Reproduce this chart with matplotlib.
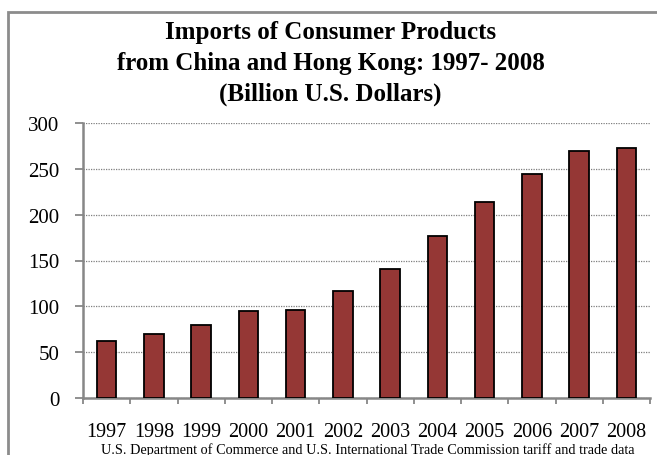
import numpy as np
import matplotlib
matplotlib.use("Agg")
import matplotlib.pyplot as plt
from matplotlib.patches import Rectangle

years = ["1997", "1998", "1999", "2000", "2001", "2002",
         "2003", "2004", "2005", "2006", "2007", "2008"]
imports = [62.5, 69.5, 80, 95, 96.5, 117, 141, 177, 214, 244, 269, 273]
yticks = [0, 50, 100, 150, 200, 250, 300]

title = ("Imports of Consumer Products\n"
         "from China and Hong Kong: 1997- 2008\n"
         "(Billion U.S. Dollars)")
source = ("U.S. Department of Commerce and U.S. International Trade "
          "Commission tariff and trade data")

plt.rcParams["font.family"] = ["Liberation Serif", "DejaVu Serif"]

fig = plt.figure(figsize=(6.57, 4.56), dpi=100)
W, H = 657, 456

# outer chart frame (only top/left visible in the original)
fig.patches.append(Rectangle((8 / W, -0.1), 1.2, 1 - 13 / H + 0.1,
                             transform=fig.transFigure, fill=False,
                             edgecolor="#8c8c8c", linewidth=2))

ax = fig.add_axes([83 / W, 1 - 399 / H, (650 - 83) / W, (399 - 124) / H])

x = np.arange(len(years))
ax.bar(x, imports, width=0.41, color="#953735", edgecolor="black",
       linewidth=1.3, zorder=3)

ax.set_xlim(-0.5, len(years) - 0.5)
ax.set_ylim(0, 300)
ax.set_yticks(yticks)
ax.set_xticks(x)
ax.set_xticklabels(years)
ax.set_xticks(np.arange(-0.5, len(years)), minor=True)

ax.yaxis.grid(True, linestyle=(0, (1, 1)), color="#7f7f7f", linewidth=0.9)
ax.set_axisbelow(True)

for s in ["top", "right"]:
    ax.spines[s].set_visible(False)
for s in ["left", "bottom"]:
    ax.spines[s].set_color("#878787")
    ax.spines[s].set_linewidth(1.8)

ax.tick_params(axis="y", length=6, width=1.3, color="#878787", pad=11,
               labelsize=15)
ax.tick_params(axis="x", which="major", length=0, pad=17, labelsize=14.5)
ax.tick_params(axis="x", which="minor", length=4, width=1.3,
               color="#878787")

fig.text(0.503, 1 - 21 / H, title, ha="center", va="top", fontsize=18,
         fontweight="bold", linespacing=1.42)
fig.text(0.56, 1 - 450 / H, source, ha="center", va="center", fontsize=10.3)

fig.savefig("out.png", dpi=100)
